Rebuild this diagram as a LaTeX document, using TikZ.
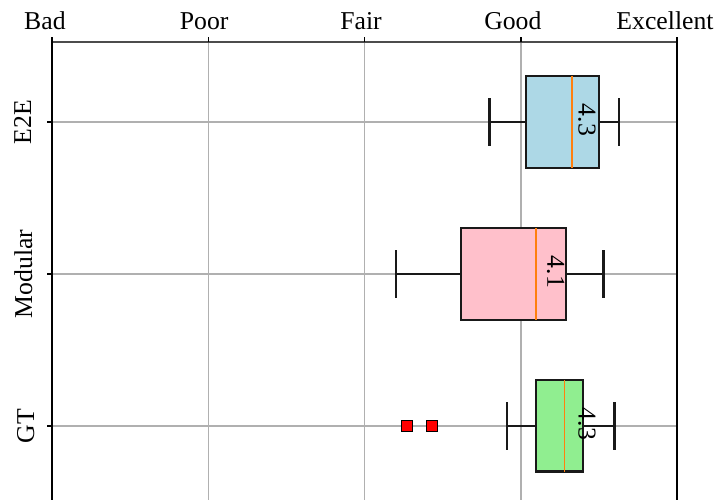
\documentclass[tikz,border=0pt]{standalone}
\usepackage{fontspec}
\setmainfont{Liberation Serif}
\usetikzlibrary{calc}
\definecolor{boxblue}{HTML}{ADD8E6}
\definecolor{boxpink}{HTML}{FFC0CB}
\definecolor{boxgreen}{HTML}{90EE90}
\definecolor{medorange}{HTML}{FF7F0E}
\definecolor{gridgray}{HTML}{B0B0B0}
% \scorebox(row)(low:q1:median:q3:high){fill}
\def\scorebox(#1)(#2:#3:#4:#5:#6)#7{
	\draw[whisk] (#2, #1) -- (#3, #1);
	\draw[whisk] (#5, #1) -- (#6, #1);
	\draw[whisk] (#2, #1-0.155) -- (#2, #1+0.155);
	\draw[whisk] (#6, #1-0.155) -- (#6, #1+0.155);
	\draw[whisk, fill=#7] (#3, #1-0.3) rectangle (#5, #1+0.3);
	\draw[line width=0.9pt, color=medorange] (#4, #1-0.3) -- (#4, #1+0.3);
}

\begin{document}
\begin{tikzpicture}[x=72.92pt, y=70.93pt,
	font=\fontsize{12}{14}\selectfont,
	whisk/.style={line width=1pt, color=black!90},
	spine/.style={line width=0.7pt},
	gridline/.style={line width=0.7pt, color=gridgray},
	toptick/.style={anchor=base, yshift=6pt, inner sep=0pt},
	sidetick/.style={xshift=-8.4pt, anchor=base, rotate=90, inner sep=0pt},
	scorelabel/.style={xshift=9pt, yshift=1pt, rotate=-90, inner sep=0pt},
	outlier/.style={draw=black, fill=red, line width=0.5pt, minimum size=5pt, inner sep=0pt}]
			%%%%% START %%%%%
			
			\useasboundingbox (0.6672, 0.5132) rectangle (5.2752, 3.8026);
			
			% grid
			\foreach \s in {2, 3, 4}
				\draw[gridline] (\s, 3.526) -- (\s, 0.5132);
			\foreach \r in {1, 2, 3}
				\draw[gridline] (1, \r) -- (5, \r);
			
			% boxes
			\scorebox(3)(3.80:4.034:4.33:4.50:4.63){boxblue}
			\scorebox(2)(3.20:3.62:4.10:4.29:4.53){boxpink}
			\scorebox(1)(3.91:4.10:4.28:4.40:4.60){boxgreen}
			
			\node[outlier] (gt-out1) at (3.27, 1) {};
			\node[outlier] (gt-out2) at (3.43, 1) {};
			
			\node[scorelabel] (e2e-score) at (4.3, 3) {4.3};
			\node[scorelabel] (mod-score) at (4.1, 2) {4.1};
			\node[scorelabel] (gt-score) at (4.3, 1) {4.3};
			
			% spines
			\draw[spine, color=black!70] (1, 3.526) -- (5, 3.526);
			\draw[spine] (1, 3.526) -- (1, 0.5132);
			\draw[spine] (5, 3.526) -- (5, 0.5132);
			
			% ticks
			\foreach \s/\name/\sh in {1/Bad/-3.3, 2/Poor/-1.9, 3/Fair/-1.6, 4/Good/-3.7, 5/Excellent/-5.6} {
				\draw[spine] (\s, 3.526) -- ++(0, 2.3pt);
				\node[toptick, xshift=\sh pt] (tick-\s) at (\s, 3.526) {\name};
			}
			\foreach \r/\name/\sh in {3/E2E/1.4, 2/Modular/0.9, 1/GT/0} {
				\draw[spine] (1, \r) -- ++(-2.3pt, 0);
				\node[sidetick, yshift=\sh pt] (row-\r) at (1, \r) {\name};
			}
			
			%%%%% END %%%%%
\end{tikzpicture}
\end{document}
